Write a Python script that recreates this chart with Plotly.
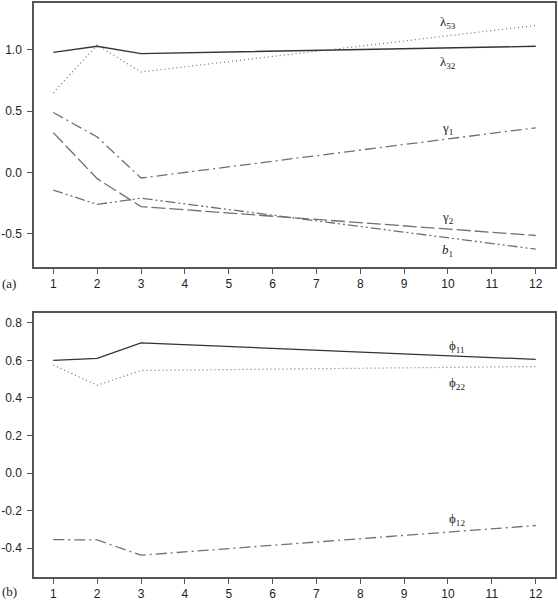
import plotly.graph_objects as go

# ---- data ----
horizons = [1, 2, 3, 12]
lambda32 = [0.98, 1.03, 0.97, 1.03]
lambda53 = [0.65, 1.04, 0.82, 1.20]
gamma1 = [0.49, 0.29, -0.045, 0.365]
gamma2 = [0.325, -0.05, -0.278, -0.514]
b1 = [-0.144, -0.26, -0.21, -0.625]

phi11 = [0.60, 0.61, 0.693, 0.605]
phi22 = [0.575, 0.467, 0.546, 0.567]
phi12 = [-0.354, -0.356, -0.437, -0.279]

x_ticks = list(range(1, 13))
ya_ticks = [-0.5, 0.0, 0.5, 1.0]
ya_text = ["-0.5", "0.0", "0.5", "1.0"]
yb_ticks = [-0.4, -0.2, 0.0, 0.2, 0.4, 0.6, 0.8]
yb_text = ["-0.4", "-0.2", "0.0", "0.2", "0.4", "0.6", "0.8"]

# labels: (text, x, y)
labels_a = [("λ<sub>53</sub>", 10, 1.22), ("λ<sub>32</sub>", 10, 0.895),
            ("γ<sub>1</sub>", 10, 0.36), ("γ<sub>2</sub>", 10, -0.37),
            ("<i>b</i><sub>1</sub>", 10, -0.635)]
labels_b = [("ϕ<sub>11</sub>", 10.2, 0.674), ("ϕ<sub>22</sub>", 10.2, 0.479),
            ("ϕ<sub>12</sub>", 10.2, -0.246)]

W, H = 558, 602
fig = go.Figure()

dark = "#333333"
grey = "#707070"
dashdot = "11px,4px,2px,4px"
dashdotdot = "10px,3px,2px,3px,2px,3px"

def add(y, ax, dash, color, width=1.3):
    fig.add_trace(go.Scatter(x=horizons, y=y, mode="lines", xaxis=ax[0], yaxis=ax[1],
                             line=dict(color=color, width=width, dash=dash),
                             showlegend=False, hoverinfo="skip"))

add(lambda32, ("x", "y"), "solid", dark)
add(lambda53, ("x", "y"), "1px,3px", grey, 1.2)
add(gamma1, ("x", "y"), dashdot, grey)
add(gamma2, ("x", "y"), "14px,4px", grey)
add(b1, ("x", "y"), dashdotdot, grey)

add(phi11, ("x2", "y2"), "solid", dark)
add(phi22, ("x2", "y2"), "1px,3px", grey, 1.2)
add(phi12, ("x2", "y2"), dashdot, grey)

tickfont = dict(family="Liberation Sans, Arial, sans-serif", size=12, color="#222")
axcommon = dict(showgrid=False, zeroline=False, showline=True, linecolor="#555",
                linewidth=1.5, mirror=True, ticks="outside", ticklen=5,
                tickcolor="#555", tickwidth=1, tickfont=tickfont)

top_h = 268
bot_top = 314
plot_h = 581 - 1
plot_w = W - 34 - 2

fig.update_layout(
    width=W, height=H,
    margin=dict(l=34, r=2, t=1, b=H - 581),
    paper_bgcolor="white", plot_bgcolor="white",
    xaxis=dict(domain=[0, 1], anchor="y", range=[0.56, 12.44], tickvals=x_ticks, **axcommon),
    yaxis=dict(domain=[1 - (top_h - 1) / plot_h, 1], anchor="x", range=[-0.773, 1.383],
               tickvals=ya_ticks, ticktext=ya_text, ticklabelstandoff=3, **axcommon),
    xaxis2=dict(domain=[0, 1], anchor="y2", range=[0.56, 12.44], tickvals=x_ticks, **axcommon),
    yaxis2=dict(domain=[0, 1 - (bot_top - 1) / plot_h], anchor="x2", range=[-0.553, 0.853],
                tickvals=yb_ticks, ticktext=yb_text, ticklabelstandoff=3, **axcommon),
)

serif = dict(family="Liberation Serif, Times New Roman, serif", size=13, color="#222")
for t, x, y in labels_a:
    fig.add_annotation(text=t, x=x, y=y, xref="x", yref="y", showarrow=False, font=serif)
for t, x, y in labels_b:
    fig.add_annotation(text=t, x=x, y=y, xref="x2", yref="y2", showarrow=False, font=serif)

for t, py in [("(a)", 284), ("(b)", 596)]:
    fig.add_annotation(text=t, x=-34 / plot_w, y=1 - (py - 1) / plot_h, xref="paper", yref="paper",
                       xanchor="left", yanchor="middle", showarrow=False, font=serif)

fig.write_html("out.html", config={"displayModeBar": False},
               post_script="document.body.style.margin='0';document.body.style.overflow='hidden';")
